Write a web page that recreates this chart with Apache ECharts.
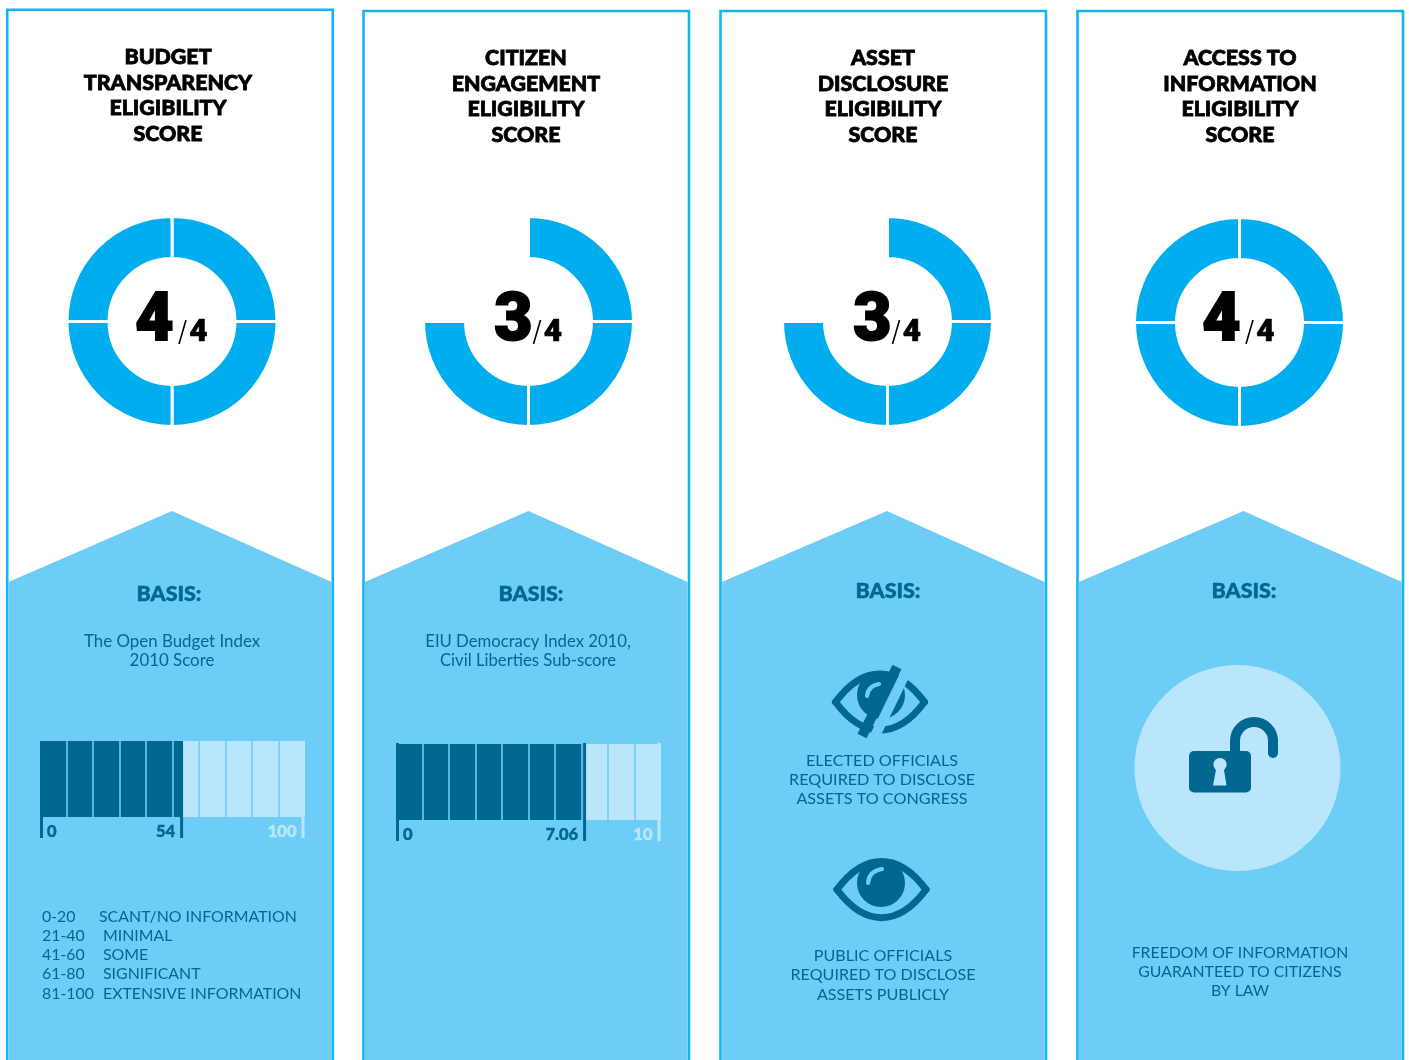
<!DOCTYPE html>
<html>
<head>
<meta charset="utf-8">
<title>Eligibility scores</title>
<style>html,body{margin:0;padding:0;background:#fff}#chart{width:1409px;height:1060px}</style>
<script src="https://cdn.jsdelivr.net/npm/echarts@6/dist/echarts.min.js"></script>
</head>
<body>
<div id="chart"></div>
<script>
// Eligibility scores, out of four
const scoreNames = ['Budget transparency', 'Citizen engagement', 'Asset disclosure', 'Access to information'];
const scoreValues = [4, 3, 3, 4];
const scoreMaximum = 4;

// Panel headings
const titleBudget = ['BUDGET', 'TRANSPARENCY', 'ELIGIBILITY', 'SCORE'];
const titleCitizen = ['CITIZEN', 'ENGAGEMENT', 'ELIGIBILITY', 'SCORE'];
const titleAsset = ['ASSET', 'DISCLOSURE', 'ELIGIBILITY', 'SCORE'];
const titleAccess = ['ACCESS TO', 'INFORMATION', 'ELIGIBILITY', 'SCORE'];

// Source index readings
const budgetIndexScore = 54;
const budgetIndexMax = 100;
const budgetIndexStep = 10;
const civilLibertiesScore = 7.06;
const civilLibertiesMax = 10;
const civilLibertiesStep = 1;

// Wording under each heading
const budgetBasis = ['The Open Budget Index', '2010 Score'];
const citizenBasis = ['EIU Democracy Index 2010,', 'Civil Liberties Sub-score'];
const electedNote = ['ELECTED OFFICIALS', 'REQUIRED TO DISCLOSE', 'ASSETS TO CONGRESS'];
const publicNote = ['PUBLIC OFFICIALS', 'REQUIRED TO DISCLOSE', 'ASSETS PUBLICLY'];
const accessNote = ['FREEDOM OF INFORMATION', 'GUARANTEED TO CITIZENS', 'BY LAW'];
const budgetRanges = ['0-20', '21-40', '41-60', '61-80', '81-100'];
const budgetRangeNames = ['SCANT/NO INFORMATION', 'MINIMAL', 'SOME', 'SIGNIFICANT', 'EXTENSIVE INFORMATION'];

// Palette and fonts
const BORDER = '#12b5f5', RING = '#00aeef', PANEL = '#6dcdf7', DEEP = '#006892', PALE = '#b9e6fb';
const HEAD_FONT = 'Lato, sans-serif';
const BODY_FONT = 'Lato, sans-serif';
const DIGIT_FONT = 'Roboto, sans-serif';

// Layout of the four columns
const columns = [
  {left: 7.2, top: 9.8, right: 332.8, apex: 172, ringX: 172, ringY: 321.5, titleX: 168, titleY: 57.5, numX: 136, smallShift: 0, basisX: 169, basisY: 594},
  {left: 363.5, top: 11, right: 689, apex: 528.5, ringX: 528.5, ringY: 321.5, titleX: 526, titleY: 58.5, numX: 495, smallShift: -4.5, basisX: 531, basisY: 594},
  {left: 720.5, top: 11, right: 1046, apex: 887, ringX: 887.5, ringY: 321.5, titleX: 883, titleY: 58.5, numX: 854, smallShift: -4.5, basisX: 888, basisY: 591},
  {left: 1077.5, top: 11, right: 1403, apex: 1243.5, ringX: 1239.5, ringY: 322.5, titleX: 1240, titleY: 58.5, numX: 1203, smallShift: 0, basisX: 1244, basisY: 591}
];
const headings = [titleBudget, titleCitizen, titleAsset, titleAccess];

function textEl(x, y, text, font, size, weight, fill, align, heavy) {
  return {
    type: 'text', x: x, y: y, z: 20,
    style: {
      text: text, fontFamily: font, fontSize: size, fontWeight: weight, fill: fill,
      align: align || 'center', verticalAlign: 'middle',
      stroke: heavy ? fill : null, lineWidth: heavy || 0
    }
  };
}

function textBlock(x, y, lines, leading, size) {
  return lines.map((line, i) => textEl(x, y + i * leading, line, BODY_FONT, size, 400, DEEP));
}

const graphics = [];

columns.forEach((c, i) => {
  // White frame with the tinted lower section
  graphics.push({type: 'rect', z: 1, shape: {x: c.left, y: c.top, width: c.right - c.left, height: 1080}, style: {fill: '#fff', stroke: BORDER, lineWidth: 2.6}});
  graphics.push({type: 'polygon', z: 2, shape: {points: [[c.left + 1.3, 582], [c.apex, 511], [c.right - 1.3, 582], [c.right - 1.3, 1075], [c.left + 1.3, 1075]]}, style: {fill: PANEL}});
  headings[i].forEach((line, j) => {
    const lineY = c.titleY + [0, 26, 51, 77][j];
    graphics.push(textEl(c.titleX, lineY, line, HEAD_FONT, 21.4, 900, '#000', 'center', 0.8));
  });
  graphics.push(textEl(c.basisX, c.basisY, 'BASIS:', HEAD_FONT, 21.5, 900, DEEP, 'center', 0.5));
  // Score in the middle of the ring
  graphics.push(textEl(c.numX + 18.5, 323.5, String(scoreValues[i]), DIGIT_FONT, 66, 900, '#000', 'center', 2));
  graphics.push({type: 'line', z: 20, shape: {x1: c.numX + 50 + c.smallShift, y1: 320, x2: c.numX + 43 + c.smallShift, y2: 344}, style: {stroke: '#000', lineWidth: 1.6}});
  graphics.push(textEl(c.numX + 62.5 + c.smallShift, 333.5, String(scoreMaximum), DIGIT_FONT, 31.5, 900, '#000', 'center', 0.7));
});

graphics.push(...textBlock(172, 641.7, budgetBasis, 19, 16.9));
graphics.push(...textBlock(528, 641.7, citizenBasis, 19, 16.7));
graphics.push(...textBlock(882, 760.7, electedNote, 19, 16.2));
graphics.push(...textBlock(883, 955.7, publicNote, 19.3, 16.1));
graphics.push(...textBlock(1240, 952.7, accessNote, 19, 15.8));

budgetRanges.forEach((range, i) => {
  const y = 916.7 + i * 19.2;
  graphics.push(textEl(42, y, range, BODY_FONT, 15.9, 400, DEEP, 'left'));
  graphics.push(textEl(i === 0 ? 99 : 103, y, budgetRangeNames[i], BODY_FONT, 15.9, 400, DEEP, 'left'));
});

// Open eye icon
function eyeOutline(cx, cy, halfWidth, lift) {
  return [-1, 1].map(dir => ({
    type: 'bezierCurve', z: 10,
    shape: {x1: cx - halfWidth, y1: cy, x2: cx + halfWidth, y2: cy, cpx1: cx - halfWidth * 0.38, cpy1: cy + dir * lift, cpx2: cx + halfWidth * 0.38, cpy2: cy + dir * lift},
    style: {stroke: DEEP, lineWidth: 7, lineCap: 'round', lineJoin: 'round', fill: 'none'}
  }));
}
function eyeGlint(x1, y1, cpx, cpy, x2, y2) {
  return {
    type: 'bezierCurve', z: 12,
    shape: {x1: x1, y1: y1, x2: x2, y2: y2, cpx1: cpx, cpy1: cpy},
    style: {stroke: PANEL, lineWidth: 4.2, lineCap: 'round', fill: 'none'}
  };
}
graphics.push(...eyeOutline(881.5, 889.5, 44.5, 37.5));
graphics.push({type: 'circle', z: 11, shape: {cx: 881, cy: 883, r: 24}, style: {fill: DEEP}});
graphics.push(eyeGlint(868, 883, 869, 871, 882, 869));

// Struck-through eye icon
graphics.push(...eyeOutline(880, 702, 44.5, 37.5));
graphics.push({type: 'circle', z: 11, shape: {cx: 881, cy: 695, r: 24}, style: {fill: DEEP}});
graphics.push(eyeGlint(867, 696, 868, 686, 879, 684));
graphics.push({type: 'line', z: 13, shape: {x1: 909, y1: 666, x2: 874, y2: 738}, style: {stroke: PANEL, lineWidth: 10}});
graphics.push({type: 'line', z: 14, shape: {x1: 897, y1: 667, x2: 862, y2: 736}, style: {stroke: DEEP, lineWidth: 10}});

// Open padlock icon on a pale disc
graphics.push({type: 'circle', z: 5, shape: {cx: 1237.5, cy: 768, r: 103}, style: {fill: PALE}});
graphics.push({type: 'arc', z: 6, shape: {cx: 1254, cy: 741, r: 19, startAngle: Math.PI, endAngle: Math.PI * 2, clockwise: true}, style: {stroke: DEEP, lineWidth: 10, fill: 'none'}});
graphics.push({type: 'line', z: 6, shape: {x1: 1235, y1: 741, x2: 1235, y2: 755}, style: {stroke: DEEP, lineWidth: 10}});
graphics.push({type: 'line', z: 6, shape: {x1: 1273, y1: 741, x2: 1273, y2: 753}, style: {stroke: DEEP, lineWidth: 10, lineCap: 'round'}});
graphics.push({type: 'rect', z: 7, shape: {x: 1189, y: 751, width: 62, height: 41.5, r: 5}, style: {fill: DEEP}});
graphics.push({type: 'circle', z: 8, shape: {cx: 1220, cy: 764.5, r: 6.6}, style: {fill: PALE}});
graphics.push({type: 'polygon', z: 8, shape: {points: [[1216.5, 767], [1223.5, 767], [1226.5, 785.5], [1213, 785.5]]}, style: {fill: PALE}});

// Score rings, one quarter per point
const ringSeries = columns.map((c, i) => ({
  type: 'pie', name: scoreNames[i], silent: true, z: 5,
  center: [c.ringX, c.ringY], radius: [63, 105], startAngle: 90, clockwise: true,
  label: {show: false}, labelLine: {show: false},
  data: Array.from({length: scoreMaximum}, (_, k) => ({
    value: 1,
    itemStyle: k < scoreValues[i]
      ? {color: RING, borderColor: '#fff', borderWidth: 3}
      : {color: 'rgba(0,0,0,0)', borderWidth: 0}
  }))
}));

// Banded gauges: a stacked bar on a linear axis, cut into even bands by the axis split lines
const gauges = [
  {name: 'Open Budget Index', value: budgetIndexScore, max: budgetIndexMax, step: budgetIndexStep, left: 40, top: 741, tickFromBarEnd: true, midShift: -3, label: String(budgetIndexScore)},
  {name: 'Civil Liberties', value: civilLibertiesScore, max: civilLibertiesMax, step: civilLibertiesStep, left: 396, top: 744, tickFromBarEnd: false, midShift: 0, label: String(civilLibertiesScore)}
];
const BAR_W = 265, BAR_H = 76, TICK_BELOW = 21;

const grids = gauges.map(g => ({left: g.left, top: g.top, width: BAR_W, height: BAR_H, containLabel: false}));
const xAxes = gauges.map((g, i) => ({
  type: 'value', gridIndex: i, min: 0, max: g.max, interval: g.step, z: 8,
  axisLine: {show: false}, axisTick: {show: false}, axisLabel: {show: false},
  splitLine: {show: true, showMinLine: false, showMaxLine: false, lineStyle: {color: PANEL, width: 1.6}}
}));
const yAxes = gauges.map((g, i) => ({type: 'category', gridIndex: i, show: false, data: [g.name]}));

const gaugeSeries = [];
gauges.forEach((g, i) => {
  gaugeSeries.push({type: 'bar', name: g.name, xAxisIndex: i, yAxisIndex: i, stack: g.name, barWidth: BAR_H, z: 5, silent: true, itemStyle: {color: DEEP}, data: [g.value]});
  gaugeSeries.push({type: 'bar', name: g.name + ' remainder', xAxisIndex: i, yAxisIndex: i, stack: g.name, barWidth: BAR_H, z: 5, silent: true, itemStyle: {color: PALE}, data: [g.max - g.value]});
  // Marker ticks and their values under the bar
  gaugeSeries.push({
    type: 'custom', xAxisIndex: i, yAxisIndex: i, z: 9, silent: true, clip: false,
    encode: {x: 0, y: 1},
    data: [[0, g.name, '0'], [g.value, g.name, g.label], [g.max, g.name, String(g.max)]],
    renderItem: function (params, api) {
      const k = params.dataIndex;
      const x = api.coord([api.value(0), 0])[0];
      const sys = params.coordSys;
      const barEnd = sys.y + sys.height;
      const bottom = barEnd + TICK_BELOW;
      const tickLeft = k === 0 ? x : (k === 1 ? x + g.midShift : x - 3.5);
      const tickTop = g.tickFromBarEnd ? barEnd : sys.y - 1;
      const color = k === 2 ? PALE : DEEP;
      return {
        type: 'group',
        children: [
          {type: 'rect', shape: {x: tickLeft, y: tickTop, width: 3, height: bottom - tickTop}, style: {fill: color}},
          {type: 'text', style: {
            x: k === 0 ? tickLeft + 7 : tickLeft - 5, y: barEnd + 14.5,
            text: api.value(2), fill: color, stroke: color, lineWidth: 0.4,
            fontFamily: HEAD_FONT, fontWeight: 900, fontSize: 16.5,
            align: k === 0 ? 'left' : 'right', verticalAlign: 'middle'
          }}
        ]
      };
    }
  });
});

const chart = echarts.init(document.getElementById('chart'), null, {renderer: 'canvas'});
chart.setOption({
  animation: false,
  backgroundColor: '#fff',
  grid: grids,
  xAxis: xAxes,
  yAxis: yAxes,
  graphic: {elements: graphics},
  series: ringSeries.concat(gaugeSeries)
});
</script>
</body>
</html>
